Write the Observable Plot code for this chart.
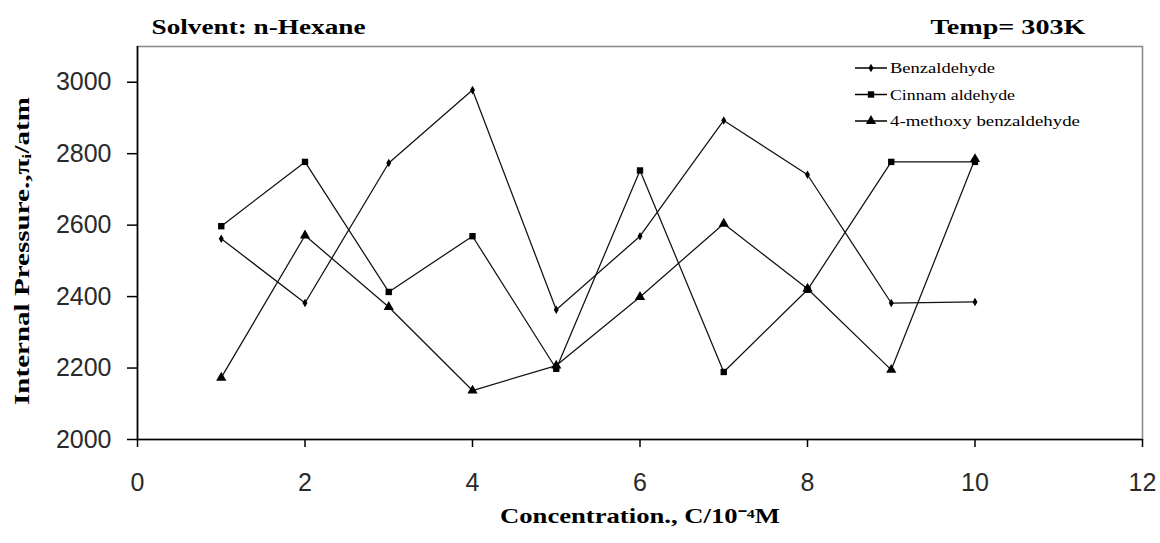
<!DOCTYPE html>
<html><head><meta charset="utf-8">
<script src="https://cdn.jsdelivr.net/npm/d3@7"></script>
<script src="https://cdn.jsdelivr.net/npm/@observablehq/plot@0.6"></script>
<style>
html,body{margin:0;padding:0;background:#fff;}
#chart{position:relative;width:1160px;height:543px;overflow:hidden;background:#fff;}
#chart svg{position:absolute;left:0;top:0;}
</style></head><body><div id="chart"></div>
<script>
// ---- data ----
const concentration = [1, 2, 3, 4, 5, 6, 7, 8, 9, 10];
const benzaldehyde = [2562, 2382, 2774, 2978, 2363, 2569, 2893, 2741, 2382, 2385];
const cinnamaldehyde = [2597, 2777, 2413, 2569, 2198, 2753, 2189, 2419, 2777, 2777];
const methoxyBenzaldehyde = [2173, 2571, 2371, 2137, 2207, 2399, 2604, 2422, 2195, 2785];
const seriesNames = ["Benzaldehyde", "Cinnam aldehyde", "4-methoxy benzaldehyde"];
const seriesSymbols = ["diamond", "square", "triangle"];
const seriesMarkerR = [2.6, 3.6, 3.8];
const xTicks = [0, 2, 4, 6, 8, 10, 12];
const yTicks = [2000, 2200, 2400, 2600, 2800, 3000];
const titleLeft = "Solvent: n-Hexane";
const titleRight = "Temp= 303K";
const xLabel = "Concentration., C/10\u207B\u2074M";
const yLabel = "Internal Pressure.,\u03C0\u1D62/atm";

// ---- build table ----
const seriesValues = [benzaldehyde, cinnamaldehyde, methoxyBenzaldehyde];
const rows = [];
seriesValues.forEach((vals, s) => vals.forEach((v, i) => rows.push({series: seriesNames[s], c: concentration[i], p: v})));

const serif = '"Liberation Serif", "Times New Roman", serif';
const sans = '"Liberation Sans", Arial, sans-serif';

const dotMarks = seriesNames.map((name, s) =>
  Plot.dot(rows.filter(d => d.series === name), {x: "c", y: "p", symbol: () => seriesSymbols[s], fill: "#000", stroke: "none", r: seriesMarkerR[s]})
);

const plot = Plot.plot({
  width: 1160, height: 543,
  marginLeft: 137, marginRight: 18, marginTop: 46, marginBottom: 104,
  style: {fontFamily: sans, background: "#fff", color: "#111", overflow: "visible"},
  x: {domain: [0, 12]},
  y: {domain: [2000, 3100]},
  symbol: {type: "identity"},
  marks: [
    Plot.frame({stroke: "#8c8c8c", strokeWidth: 1.6}),
    Plot.axisX({ticks: xTicks, tickFormat: d3.format("d"), tickSize: 8, tickPadding: 26, fontSize: 25, label: null, stroke: "#000", strokeWidth: 1.5, fill: "#2a2a2a"}),
    Plot.axisY({ticks: yTicks, tickFormat: d3.format("d"), tickSize: 10, tickPadding: 16, fontSize: 25, label: null, stroke: "#000", strokeWidth: 1.5, fill: "#2a2a2a"}),
    Plot.ruleY([yTicks[0]], {stroke: "#000", strokeWidth: 1.6}),
    Plot.ruleX([xTicks[0]], {stroke: "#000", strokeWidth: 1.6}),
    Plot.line(rows, {x: "c", y: "p", z: "series", stroke: "#111", strokeWidth: 1.25}),
    ...dotMarks,
    Plot.text([titleLeft], {text: d => d, frameAnchor: "top-left", textAnchor: "start", lineAnchor: "bottom", dx: 14, dy: -13, fontFamily: serif, fontWeight: "bold", fontSize: 20, fill: "#000"}),
    Plot.text([titleRight], {text: d => d, frameAnchor: "top-right", textAnchor: "end", lineAnchor: "bottom", dx: -57, dy: -13, fontFamily: serif, fontWeight: "bold", fontSize: 20, fill: "#000"}),
    Plot.text([xLabel], {text: d => d, frameAnchor: "bottom", textAnchor: "middle", lineAnchor: "middle", dy: 77, fontFamily: serif, fontWeight: "bold", fontSize: 20, fill: "#000"}),
    Plot.text([yLabel], {text: d => d, frameAnchor: "left", textAnchor: "middle", lineAnchor: "middle", rotate: -90, dx: -115, dy: 8, fontFamily: serif, fontWeight: "bold", fontSize: 21, fill: "#000"})
  ]
});
document.getElementById("chart").appendChild(plot);

// stretch bitmap-like text widths to the reference
const widths = new Map([[titleLeft, 214], [titleRight, 155], [xLabel, 280], [yLabel, 308]]);
plot.querySelectorAll("text").forEach(t => {
  const w = widths.get(t.textContent);
  if (w) { t.setAttribute("textLength", w); t.setAttribute("lengthAdjust", "spacingAndGlyphs"); }
});

// ---- legend (inside plot area, top right) ----
const legendW = [105, 125, 190];
const lg = d3.select("#chart").append("svg").attr("width", 1160).attr("height", 543).style("pointer-events", "none");
const ent = lg.selectAll("g").data(seriesNames).join("g")
  .attr("transform", (d, i) => `translate(855,${68 + i * 26.5})`);
ent.append("line").attr("x1", 0).attr("x2", 32).attr("y1", 0).attr("y2", 0).attr("stroke", "#000").attr("stroke-width", 1.5);
ent.append("path").attr("transform", "translate(16,0)")
  .attr("d", (d, i) => d3.symbol(i === 0 ? d3.symbolDiamond : i === 1 ? d3.symbolSquare : d3.symbolTriangle, Math.PI * seriesMarkerR[i] * seriesMarkerR[i])())
  .attr("fill", "#000");
ent.append("text").attr("x", 35).attr("y", 0).attr("dy", "0.35em")
  .attr("font-family", serif).attr("font-size", 15).attr("fill", "#000")
  .attr("textLength", (d, i) => legendW[i]).attr("lengthAdjust", "spacingAndGlyphs")
  .text(d => d);
</script>
</body></html>
